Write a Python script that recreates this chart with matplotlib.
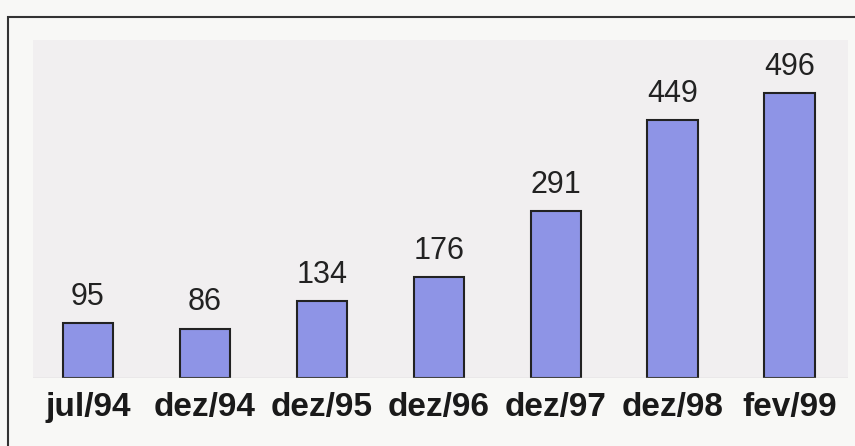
import matplotlib.pyplot as plt
from matplotlib.patches import Rectangle

plt.rcParams["font.family"] = ["Liberation Sans", "DejaVu Sans"]

# Dados
periodos = ["jul/94", "dez/94", "dez/95", "dez/96", "dez/97", "dez/98", "fev/99"]
valores = [95, 86, 134, 176, 291, 449, 496]

fig = plt.figure(figsize=(8.55, 4.46), dpi=100)
fig.patch.set_facecolor("#f8f8f6")

# Moldura externa
frame = Rectangle((8 / 855, -0.05), 1.2, (446 - 17) / 446 + 0.05,
                  transform=fig.transFigure, fill=False,
                  edgecolor="#333333", linewidth=1.5)
fig.add_artist(frame)

ax = fig.add_axes([33 / 855, (446 - 378) / 446, (848 - 33) / 855, (378 - 40) / 446])
ax.set_facecolor("#f1eff0")

x = range(len(periodos))
bars = ax.bar(x, valores, width=0.43, color="#8e94e6",
              edgecolor="#222222", linewidth=1.5)

for bar, v in zip(bars, valores):
    ax.annotate(str(v), (bar.get_x() + bar.get_width() / 2, v),
                xytext=(0, 8), textcoords="offset points",
                ha="center", va="bottom", fontsize=22, color="#222222")

ax.set_xlim(-0.47, 6.5)
ax.set_ylim(0, 588)
ax.set_xticks(list(x))
ax.set_xticklabels(periodos, fontsize=24, fontweight="bold", color="#1a1a1a")
ax.tick_params(axis="x", length=0, pad=10)
ax.set_yticks([])
for s in ax.spines.values():
    s.set_visible(False)
ax.axhline(0, color="#cfcfcf", linewidth=1)

plt.savefig("out.png", dpi=100, facecolor=fig.get_facecolor())
